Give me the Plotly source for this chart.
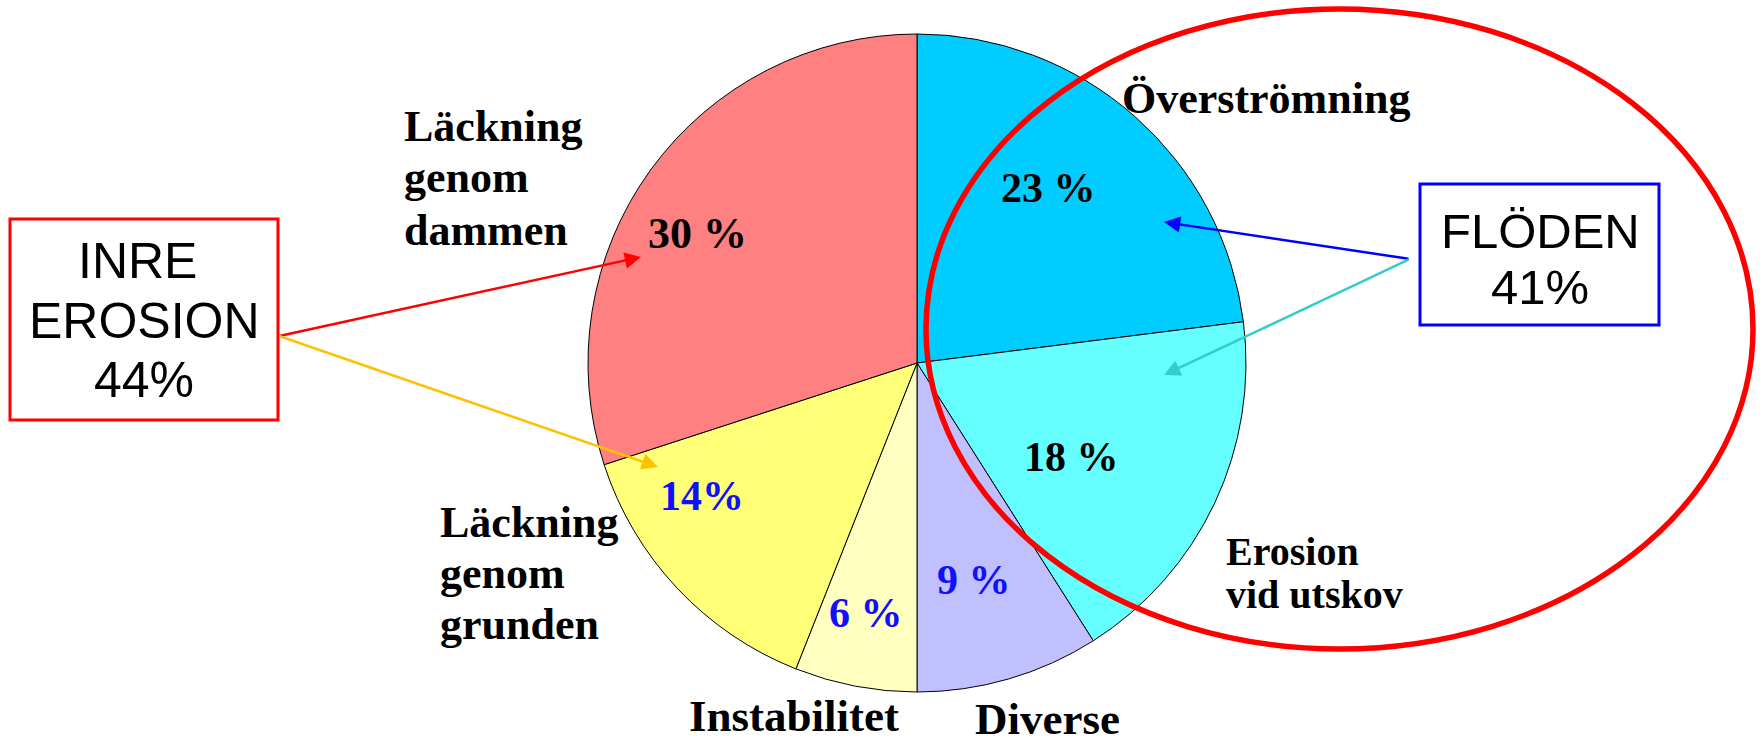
import plotly.graph_objects as go

W, H = 1764, 746

# ---- data ----
categories = ["Överströmning", "Erosion vid utskov", "Diverse", "Instabilitet",
              "Läckning genom grunden", "Läckning genom dammen"]
values = [23, 18, 9, 6, 14, 30]
pct_labels = ["23 %", "18 %", "9 %", "6 %", "14%", "30 %"]
slice_colors = ["#00CCFF", "#66FFFF", "#C0C0FF", "#FFFFC0", "#FFFF78", "#FF8080"]
pct_colors = ["black", "black", "#1010FF", "#1010FF", "#1010FF", "black"]
cat_lines = [["Överströmning"], ["Erosion", "vid utskov"], ["Diverse"], ["Instabilitet"],
             ["Läckning", "genom", "grunden"], ["Läckning", "genom", "dammen"]]
group_lines = [["INRE\u00a0", "EROSION", "44%"], ["FLÖDEN", "41%"]]

# ---- layout helpers (pixel -> paper) ----
def px(x):
    return x / W

def py(y):
    return 1 - y / H

cx, cy, r = 917, 363, 329

fig = go.Figure(go.Pie(
    labels=categories, values=values, sort=False, direction="clockwise", rotation=0,
    marker=dict(colors=slice_colors, line=dict(color="black", width=1)),
    textinfo="none", hoverinfo="label+percent", showlegend=False,
    domain=dict(x=[px(cx - r), px(cx + r)], y=[py(cy + r), py(cy - r)]),
))

serif = "Liberation Serif, Times New Roman, serif"
sans = "Liberation Sans, Arial, sans-serif"

annotations = []

def txt(x, y, t, family, size, color="black", xanchor="center"):
    annotations.append(dict(x=px(x), y=py(y), xref="paper", yref="paper", text=t,
                            showarrow=False, font=dict(family=family, size=size, color=color),
                            xanchor=xanchor, yanchor="middle"))

# percent labels (positions in pixels)
pct_pos = [(1048, 188), (1071, 457), (974, 580), (866, 613), (702, 496), (697, 233)]
pct_sizes = [42, 42, 42, 42, 42, 44]
for (x, y), t, c, s in zip(pct_pos, pct_labels, pct_colors, pct_sizes):
    txt(x, y, f"<b>{t}</b>", serif, s, c)

# category labels: (x, first-line y, line step, anchor, size)
cat_pos = [(1266, 99, 0, "center", 44), (1224, 551, 43, "left", 40),
           (1047, 719, 0, "center", 45), (794, 716, 0, "center", 45),
           (438, 522, 51, "left", 44), (402, 126, 52, "left", 44)]
for (x, y, step, xa, s), lines in zip(cat_pos, cat_lines):
    for i, line in enumerate(lines):
        txt(x, y + i * step, f"<b>{line}</b>", serif, s, "black", xa)

# group boxes text
for (x, y0, step, s), lines in zip([(144, 261, 59.5, 50), (1540, 231, 56, 49)], group_lines):
    for i, line in enumerate(lines):
        txt(x, y0 + i * step, line, sans, s)

# arrows: (tail, tip, color)
arrows = [((279, 336), (641, 257), "#FF0000"),
          ((279, 336), (658, 467), "#FFC000"),
          ((1410, 259), (1164, 222), "#0000FF"),
          ((1410, 259), (1164, 375), "#33CCCC")]
for (tx, ty), (hx, hy), col in arrows:
    annotations.append(dict(x=px(hx), y=py(hy), xref="paper", yref="paper",
                            ax=tx - hx, ay=ty - hy, axref="pixel", ayref="pixel",
                            text="", showarrow=True, arrowhead=2, arrowsize=1.3,
                            arrowwidth=2.5, arrowcolor=col, standoff=0, startstandoff=0))

shapes = [
    dict(type="rect", xref="paper", yref="paper", x0=px(10), x1=px(278), y0=py(420), y1=py(219),
         line=dict(color="#FF0000", width=3)),
    dict(type="rect", xref="paper", yref="paper", x0=px(1420), x1=px(1659), y0=py(325), y1=py(184),
         line=dict(color="#0000FF", width=3)),
    dict(type="circle", xref="paper", yref="paper", x0=px(926), x1=px(1753), y0=py(649), y1=py(9),
         line=dict(color="#FF0000", width=5.5)),
]

fig.update_layout(width=W, height=H, margin=dict(l=0, r=0, t=0, b=0),
                  paper_bgcolor="white", plot_bgcolor="white",
                  annotations=annotations, shapes=shapes, showlegend=False)

fig.write_html("out.html")
